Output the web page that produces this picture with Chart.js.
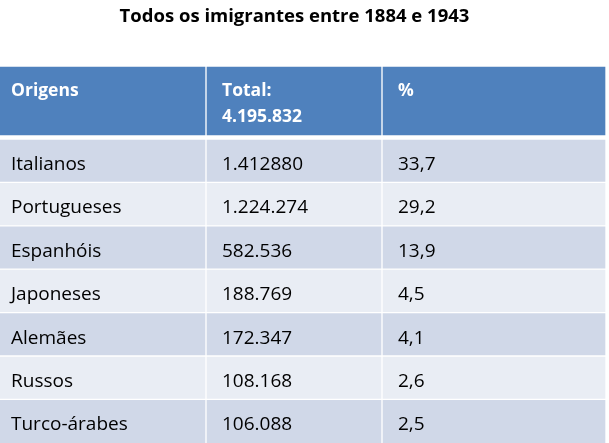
<!DOCTYPE html>
<html>
<head>
<meta charset="utf-8">
<script src="https://cdn.jsdelivr.net/npm/chart.js@4/dist/chart.umd.min.js"></script>
<style>
  html, body { margin: 0; padding: 0; background: #fff; }
  #wrap { width: 609px; height: 443px; position: relative; }
</style>
</head>
<body>
<div id="wrap"><canvas id="tabela"></canvas></div>
<script>
// dados da tabela
const titulo = 'Todos os imigrantes entre 1884 e 1943';
const cabecalhos = [['Origens'], ['Total:', '4.195.832'], ['%']];
const origens = ['Italianos', 'Portugueses', 'Espanhóis', 'Japoneses', 'Alemães', 'Russos', 'Turco-árabes'];
const totais = ['1.412880', '1.224.274', '582.536', '188.769', '172.347', '108.168', '106.088'];
const percentuais = ['33,7', '29,2', '13,9', '4,5', '4,1', '2,6', '2,5'];

// layout (px dentro da area do grafico)
// a area fica 20px mais estreita para o titulo ficar centrado como no original
const folgaDireita = 20;
const larguraTotal = 609 - folgaDireita, alturaTotal = 376;
const colunas = [[0, 205], [207, 381], [383, 605]];
const recuo = [11, 15, 15];
const alturaCab = 68, inicioLinhas = 73, passoLinha = 43.4, linhaBranca = 2;
const corCab = '#4F81BD', corEscura = '#D0D8E8', corClara = '#E9EDF4';
const fonte = "'Open Sans', sans-serif";

const colunasTexto = [origens, totais, percentuais];

const faixa = (i) => {
    if (i === 0) return [0, alturaCab];
    const top = inicioLinhas + (i - 1) * passoLinha;
    const bottom = i === origens.length ? alturaTotal : top + passoLinha - linhaBranca;
    return [top, bottom];
};

const datasets = colunas.map((c, k) => {
    const textos = [cabecalhos[k]].concat(colunasTexto[k].map(t => [t]));
    return {
        label: cabecalhos[k].join(' '),
        data: textos.map((t, i) => ({ x: (c[0] + c[1]) / 2, y: faixa(i) })),
        textos: textos,
        recuo: recuo[k],
        barThickness: c[1] - c[0],
        backgroundColor: ctx => ctx.dataIndex === 0 ? corCab : (ctx.dataIndex % 2 ? corEscura : corClara),
        borderWidth: 0,
        clip: false,
        stack: 'tabela'
    };
});

const textoCelulas = {
    id: 'textoCelulas',
    afterDatasetsDraw(chart) {
        const ctx = chart.ctx;
        ctx.save();
        ctx.textAlign = 'left';
        ctx.textBaseline = 'alphabetic';
        chart.data.datasets.forEach((ds, d) => {
            chart.getDatasetMeta(d).data.forEach((el, i) => {
                const left = el.x - el.width / 2 + ds.recuo;
                const top = Math.min(el.y, el.base);
                if (i === 0) {
                    ctx.font = 'bold 17.5px ' + fonte;
                    ctx.fillStyle = '#ffffff';
                    ds.textos[i].forEach((linha, n) => ctx.fillText(linha, left, top + 28.5 + n * 26));
                } else {
                    ctx.font = '19px ' + fonte;
                    ctx.fillStyle = '#000000';
                    ctx.fillText(ds.textos[i][0], left, top + 30);
                }
            });
        });
        ctx.restore();
    }
};

new Chart(document.getElementById('tabela'), {
    type: 'bar',
    data: { datasets: datasets },
    options: {
        responsive: true,
        maintainAspectRatio: false,
        animation: false,
        events: [],
        layout: { padding: { left: 0, top: 0, bottom: 0, right: folgaDireita } },
        scales: {
            x: { type: 'linear', min: 0, max: larguraTotal, offset: false, stacked: true, display: false },
            y: { type: 'linear', min: 0, max: alturaTotal, reverse: true, display: false }
        },
        plugins: {
            legend: { display: false },
            tooltip: { enabled: false },
            title: {
                display: true,
                text: titulo,
                color: '#000000',
                font: { family: fonte, size: 18.5, weight: 'bold' },
                padding: { top: 6, bottom: 38.8 }
            }
        }
    },
    plugins: [textoCelulas]
});
</script>
</body>
</html>
